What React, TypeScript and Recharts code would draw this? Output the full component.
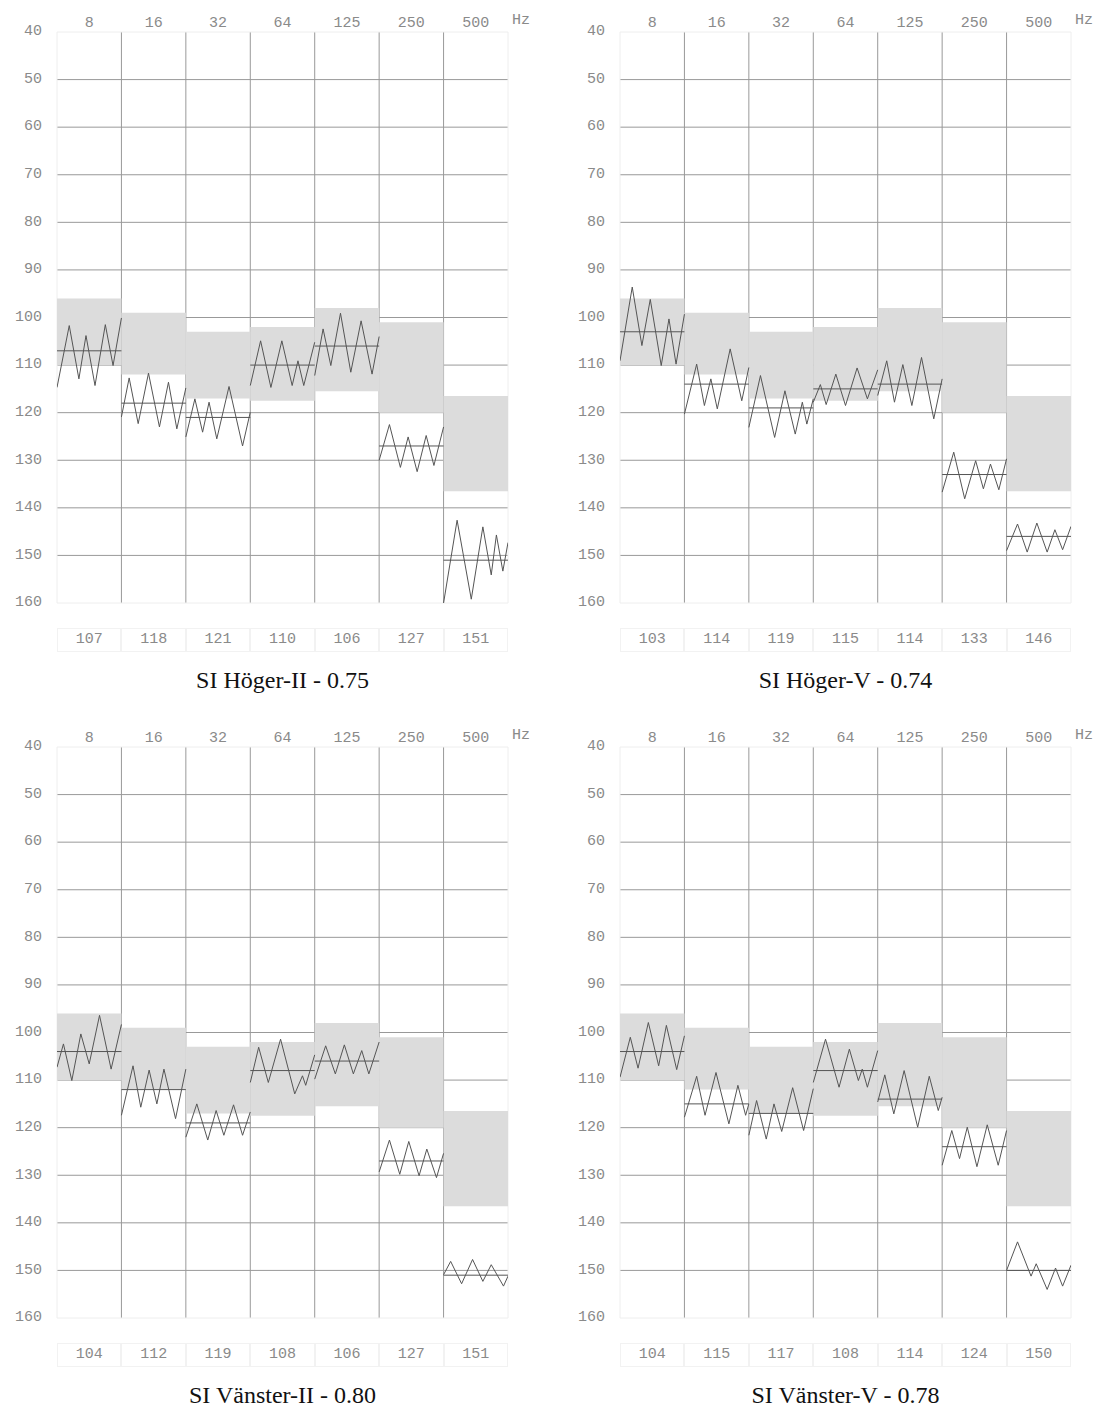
import React from 'react';
import { ComposedChart, Line, XAxis, YAxis, CartesianGrid, ReferenceArea } from 'recharts';

const FREQ_LABELS = ['8', '16', '32', '64', '125', '250', '500'];
const Y_TICKS = [40, 50, 60, 70, 80, 90, 100, 110, 120, 130, 140, 150, 160];
const GRID_Y = [50, 60, 70, 80, 90, 100, 110, 120, 130, 140, 150];
const GRID_X = [1, 2, 3, 4, 5, 6];
const COLUMN_CENTERS = [0.5, 1.5, 2.5, 3.5, 4.5, 5.5, 6.5];
const BAND_LOW = [96, 99, 103, 102, 98, 101, 116.5];
const BAND_HIGH = [110, 112, 117, 117.5, 115.5, 120, 136.5];

// Panel 1: SI Höger-II
const P1_TITLE = 'SI Höger-II - 0.75';
const P1_MEANS = [107, 118, 121, 110, 106, 127, 151];
const P1_TIMES = [
  [0, 0.19, 0.34, 0.45, 0.59, 0.75, 0.87, 1],
  [0, 0.12, 0.26, 0.42, 0.59, 0.73, 0.86, 1],
  [0, 0.14, 0.26, 0.36, 0.48, 0.67, 0.88, 1],
  [0, 0.16, 0.32, 0.49, 0.65, 0.74, 0.83, 1],
  [0, 0.13, 0.25, 0.4, 0.56, 0.72, 0.89, 1],
  [0, 0.16, 0.33, 0.45, 0.59, 0.73, 0.85, 1],
  [0, 0.21, 0.43, 0.61, 0.74, 0.82, 0.92, 1],
];
const P1_VALUES = [
  [114.7, 101.7, 112.9, 103.8, 114.3, 101.5, 110.1, 100.1],
  [120.9, 112.7, 122.3, 111.7, 123, 113.6, 123.4, 114.8],
  [125.1, 117.1, 124.1, 117.8, 125.5, 114.5, 127, 119.9],
  [114.3, 104.9, 114.7, 104.9, 114.3, 109.1, 114.3, 105.2],
  [112.2, 102.4, 110.1, 99.1, 111.5, 100.7, 111.9, 104],
  [130, 122.5, 131.5, 125.1, 132.4, 124.8, 131.1, 123],
  [160, 142.6, 159.2, 144, 154.1, 145.7, 153.3, 147.3],
];

// Panel 2: SI Höger-V
const P2_TITLE = 'SI Höger-V - 0.74';
const P2_MEANS = [103, 114, 119, 115, 114, 133, 146];
const P2_TIMES = [
  [0, 0.19, 0.34, 0.47, 0.64, 0.76, 0.87, 1],
  [0, 0.19, 0.31, 0.41, 0.51, 0.71, 0.89, 1],
  [0, 0.18, 0.4, 0.56, 0.72, 0.83, 0.9, 1],
  [0, 0.11, 0.2, 0.35, 0.5, 0.68, 0.84, 1],
  [0, 0.14, 0.26, 0.39, 0.53, 0.68, 0.87, 1],
  [0, 0.18, 0.35, 0.52, 0.64, 0.75, 0.88, 1],
  [0, 0.17, 0.32, 0.47, 0.63, 0.75, 0.87, 1],
];
const P2_VALUES = [
  [109.1, 93.6, 105.9, 96.2, 110.1, 100.3, 109.8, 99.3],
  [120.3, 109.8, 118.5, 112.9, 119.2, 106.6, 117.5, 110.5],
  [123.1, 112.2, 125.2, 115.4, 124.5, 117.8, 122.4, 117.1],
  [117.8, 114.1, 118.3, 111.9, 118.5, 110.6, 117.1, 111],
  [116.4, 109.1, 117.8, 109.9, 118.5, 108.4, 121.3, 112.9],
  [136.7, 128.3, 138.1, 130.1, 136, 130.8, 136.2, 129.7],
  [149, 143.4, 149.3, 143.2, 149.3, 144.6, 148.8, 143.9],
];

// Panel 3: SI Vänster-II
const P3_TITLE = 'SI Vänster-II - 0.80';
const P3_MEANS = [104, 112, 119, 108, 106, 127, 151];
const P3_TIMES = [
  [0, 0.1, 0.23, 0.37, 0.5, 0.66, 0.84, 1],
  [0, 0.18, 0.3, 0.43, 0.55, 0.66, 0.84, 1],
  [0, 0.17, 0.34, 0.47, 0.59, 0.74, 0.88, 1],
  [0, 0.13, 0.28, 0.47, 0.69, 0.81, 0.86, 1],
  [0, 0.17, 0.32, 0.46, 0.6, 0.73, 0.84, 1],
  [0, 0.16, 0.32, 0.46, 0.62, 0.74, 0.89, 1],
  [0, 0.11, 0.28, 0.45, 0.61, 0.74, 0.93, 1],
];
const P3_VALUES = [
  [107.3, 102.4, 110.1, 100.3, 106.6, 96.4, 107.7, 98.3],
  [117.4, 107, 115.7, 107.9, 115, 107.7, 118.1, 107.7],
  [122, 115, 122.6, 116.4, 121.6, 115.2, 121.6, 116.7],
  [110.5, 103.1, 110.5, 101.4, 112.9, 109.1, 111.1, 104.7],
  [109.8, 102.8, 108.7, 102.6, 108.7, 103.8, 108.7, 102],
  [129.3, 122.6, 129.8, 122.9, 130.1, 124.5, 130.5, 125.4],
  [150.9, 148.1, 152.8, 147.7, 152.3, 148.8, 153.3, 151.2],
];

// Panel 4: SI Vänster-V
const P4_TITLE = 'SI Vänster-V - 0.78';
const P4_MEANS = [104, 115, 117, 108, 114, 124, 150];
const P4_TIMES = [
  [0, 0.16, 0.28, 0.44, 0.6, 0.72, 0.88, 1],
  [0, 0.19, 0.32, 0.49, 0.69, 0.83, 0.95, 1],
  [0, 0.12, 0.27, 0.39, 0.51, 0.68, 0.85, 1],
  [0, 0.19, 0.4, 0.56, 0.7, 0.76, 0.84, 1],
  [0, 0.11, 0.25, 0.41, 0.62, 0.8, 0.94, 1],
  [0, 0.15, 0.27, 0.39, 0.54, 0.7, 0.87, 1],
  [0, 0.17, 0.38, 0.46, 0.63, 0.76, 0.87, 1],
];
const P4_VALUES = [
  [109.4, 101, 107.5, 97.9, 107, 98.5, 107.8, 100.7],
  [117.8, 109.2, 117.4, 108.4, 119.2, 111.1, 117.4, 115],
  [121.6, 114.3, 122.4, 115, 120.8, 111.6, 120.6, 111.8],
  [110.5, 101.4, 111.5, 103.5, 110.1, 107.7, 111.5, 103.8],
  [114.6, 108.9, 117.1, 108, 119.9, 109.2, 116.4, 113.6],
  [127.9, 120.6, 126.5, 119.9, 128.2, 119.4, 127.9, 120.6],
  [150, 144, 151.2, 148.6, 154, 149.5, 153.3, 148.9],
];

const MONO = "'Liberation Mono', 'DejaVu Sans Mono', monospace";
const LABEL_COLOR = '#8a8a8a';
const LABEL_SIZE = 15;

function Panel(props: { title: string; means: number[]; times: number[][]; values: number[][]; left: number; top: number }) {
  const { title, means, times, values, left, top } = props;
  const traces = times.map((ts, i) => ts.map((t, k) => ({ x: i + t, v: values[i][k] })));
  const meanLines = means.map((m, i) => [{ x: i, v: m }, { x: i + 1, v: m }]);
  return (
    <div style={{ position: 'absolute', left, top, width: 540, height: 700 }}>
      <ComposedChart width={540} height={660} margin={{ top: 0, right: 32, bottom: 57, left: 12 }}>
        <CartesianGrid
          stroke="#999"
          strokeWidth={1}
          horizontalValues={GRID_Y}
          verticalValues={GRID_X}
          syncWithTicks
        />
        <XAxis
          type="number"
          dataKey="x"
          orientation="top"
          domain={[0, 7]}
          allowDataOverflow
          ticks={COLUMN_CENTERS}
          interval={0}
          tickFormatter={(v: number) => FREQ_LABELS[Math.floor(v)]}
          axisLine={false}
          tickLine={false}
          tickSize={0}
          tickMargin={5}
          height={32}
          tick={{ fontFamily: MONO, fontSize: LABEL_SIZE, fill: LABEL_COLOR }}
        />
        <YAxis
          type="number"
          domain={[40, 160]}
          reversed
          allowDataOverflow
          ticks={Y_TICKS}
          interval={0}
          width={45}
          axisLine={false}
          tickLine={false}
          tickSize={0}
          tickMargin={15}
          tick={{ fontFamily: MONO, fontSize: LABEL_SIZE, fill: LABEL_COLOR, dy: -2 }}
        />
        <ReferenceArea x1={0} x2={7} y1={40} y2={160} fill="none" stroke="#eeeeee" ifOverflow="visible" />
        {BAND_LOW.map((lo, i) => (
          <ReferenceArea
            key={'band' + i}
            x1={i}
            x2={i + 1}
            y1={lo}
            y2={BAND_HIGH[i]}
            fill="#dcdcdc"
            fillOpacity={1}
            stroke="none"
          />
        ))}
        {meanLines.map((d, i) => (
          <Line
            key={'mean' + i}
            data={d}
            dataKey="v"
            type="linear"
            stroke="#555"
            strokeWidth={1}
            dot={false}
            activeDot={false}
            isAnimationActive={false}
          />
        ))}
        {traces.map((d, i) => (
          <Line
            key={'trace' + i}
            data={d}
            dataKey="v"
            type="linear"
            stroke="#555"
            strokeWidth={1}
            dot={false}
            activeDot={false}
            isAnimationActive={false}
          />
        ))}
      </ComposedChart>
      <div
        style={{
          position: 'absolute',
          left: 512,
          top: 12,
          fontFamily: MONO,
          fontSize: LABEL_SIZE,
          color: LABEL_COLOR,
          lineHeight: '18px',
        }}
      >
        Hz
      </div>
      <div
        style={{
          position: 'absolute',
          left: 57,
          top: 628,
          width: 451,
          height: 24,
          display: 'flex',
        }}
      >
        {means.map((m, i) => (
          <div
            key={'val' + i}
            style={{
              flex: 1,
              border: '1px solid #f2f2f2',
              textAlign: 'center',
              fontFamily: MONO,
              fontSize: LABEL_SIZE,
              color: LABEL_COLOR,
              lineHeight: '22px',
            }}
          >
            {m}
          </div>
        ))}
      </div>
      <div
        style={{
          position: 'absolute',
          left: 57,
          width: 451,
          top: 666,
          textAlign: 'center',
          fontFamily: "'Liberation Serif', 'Times New Roman', serif",
          fontSize: 24,
          lineHeight: '28px',
          color: '#111',
        }}
      >
        {title}
      </div>
    </div>
  );
}

export default function App() {
  return (
    <div style={{ position: 'absolute', left: 0, top: 0, width: 1096, height: 1407, background: '#fff' }}>
      <Panel title={P1_TITLE} means={P1_MEANS} times={P1_TIMES} values={P1_VALUES} left={0} top={0} />
      <Panel title={P2_TITLE} means={P2_MEANS} times={P2_TIMES} values={P2_VALUES} left={563} top={0} />
      <Panel title={P3_TITLE} means={P3_MEANS} times={P3_TIMES} values={P3_VALUES} left={0} top={715} />
      <Panel title={P4_TITLE} means={P4_MEANS} times={P4_TIMES} values={P4_VALUES} left={563} top={715} />
    </div>
  );
}
